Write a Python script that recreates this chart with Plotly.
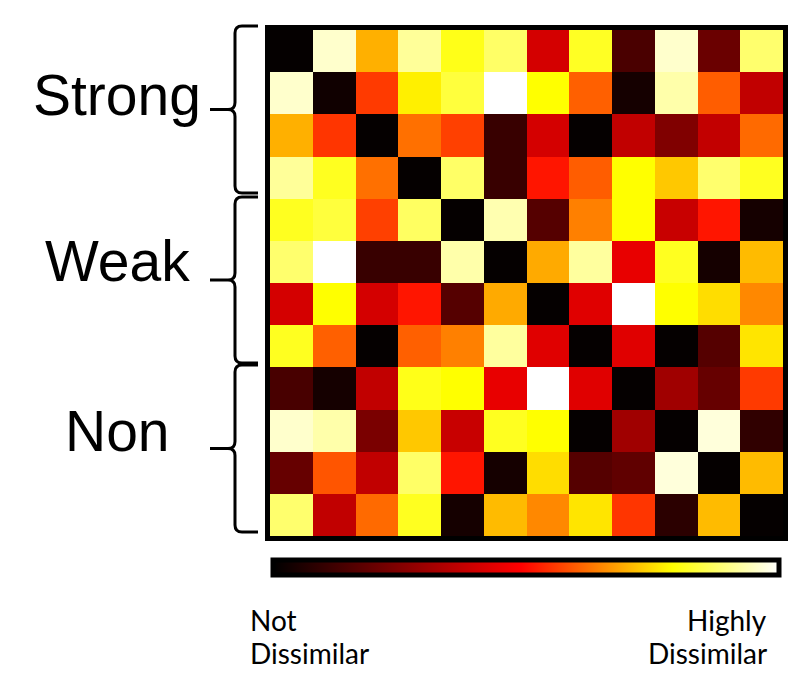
import plotly.graph_objects as go

W, H = 801, 677

# Dissimilarity matrix, grouped by bond strength (4 samples per group)
groups = ["Strong", "Weak", "Non"]

strong_rows = [
    [0.01, 0.958, 0.697, 0.916, 0.81, 0.874, 0.407, 0.82, 0.142, 0.958, 0.204, 0.88],
    [0.958, 0.03, 0.558, 0.772, 0.84, 1.0, 0.79, 0.603, 0.04, 0.93, 0.60, 0.37],
    [0.697, 0.552, 0.01, 0.622, 0.565, 0.108, 0.407, 0.01, 0.37, 0.246, 0.373, 0.615],
    [0.916, 0.816, 0.622, 0.01, 0.874, 0.108, 0.515, 0.60, 0.79, 0.725, 0.88, 0.816],
]
weak_rows = [
    [0.816, 0.84, 0.565, 0.87, 0.01, 0.935, 0.163, 0.64, 0.79, 0.384, 0.515, 0.04],
    [0.88, 1.0, 0.108, 0.108, 0.93, 0.01, 0.69, 0.92, 0.446, 0.816, 0.04, 0.71],
    [0.407, 0.79, 0.407, 0.515, 0.163, 0.69, 0.01, 0.43, 1.0, 0.79, 0.75, 0.65],
    [0.816, 0.603, 0.01, 0.603, 0.64, 0.92, 0.43, 0.01, 0.43, 0.01, 0.163, 0.76],
]
non_rows = [
    [0.138, 0.04, 0.37, 0.81, 0.79, 0.446, 1.0, 0.43, 0.01, 0.307, 0.196, 0.558],
    [0.958, 0.93, 0.235, 0.725, 0.384, 0.816, 0.79, 0.01, 0.307, 0.01, 0.97, 0.092],
    [0.196, 0.59, 0.37, 0.874, 0.515, 0.04, 0.75, 0.163, 0.185, 0.97, 0.01, 0.71],
    [0.88, 0.37, 0.615, 0.816, 0.04, 0.71, 0.65, 0.76, 0.552, 0.082, 0.71, 0.01],
]

low_label = ["Not", "Dissimilar"]
high_label = ["Highly", "Dissimilar"]

z = strong_rows + weak_rows + non_rows
n = len(z)

heat_scale = [
    [0.0, "#000000"],
    [0.49, "#ff0000"],
    [0.79, "#ffff00"],
    [1.0, "#ffffff"],
]


def px(x):
    return x / W


def py(y):
    return 1 - y / H


# plot area in pixels
X0, X1 = 270, 783
Y0, Y1 = 30, 536

fig = go.Figure(
    go.Heatmap(
        z=z,
        x=list(range(n)),
        y=list(range(n)),
        colorscale=heat_scale,
        zmin=0,
        zmax=1,
        colorbar=dict(
            orientation="h",
            lenmode="pixels",
            len=506,
            thickness=15,
            thicknessmode="pixels",
            x=px(526),
            xanchor="center",
            y=py(570),
            yanchor="middle",
            outlinewidth=5,
            outlinecolor="black",
            showticklabels=False,
            ticks="",
            xpad=0,
            ypad=0,
        ),
        hoverinfo="skip",
    )
)

axis_common = dict(
    showticklabels=False,
    ticks="",
    showgrid=False,
    zeroline=False,
    showline=True,
    linecolor="black",
    linewidth=5,
    mirror=True,
)
fig.update_xaxes(domain=[px(X0), px(X1)], range=[-0.5, n - 0.5], **axis_common)
fig.update_yaxes(domain=[py(Y1), py(Y0)], range=[n - 0.5, -0.5], **axis_common)


def brace(top, bot, xv=235, xr=258, xt=210, r=7):
    tip = (top + bot) / 2
    pts = [
        ("M", [(xr, top)]),
        ("L", [(xv + r, top)]),
        ("Q", [(xv, top), (xv, top + r)]),
        ("L", [(xv, tip - r)]),
        ("Q", [(xv, tip), (xv - r, tip)]),
        ("L", [(xt, tip)]),
        ("M", [(xv - r, tip)]),
        ("Q", [(xv, tip), (xv, tip + r)]),
        ("L", [(xv, bot - r)]),
        ("Q", [(xv, bot), (xv + r, bot)]),
        ("L", [(xr, bot)]),
    ]
    parts = []
    for cmd, coords in pts:
        parts.append(cmd + " " + " ".join(f"{px(a):.5f},{py(b):.5f}" for a, b in coords))
    return " ".join(parts)


brace_spans = [(26, 193), (197, 363), (365, 532)]
label_centers = [95, 261, 431]
for (t, b), name, yc in zip(brace_spans, groups, label_centers):
    fig.add_shape(
        type="path",
        path=brace(t, b),
        xref="paper",
        yref="paper",
        line=dict(color="black", width=3),
    )
    fig.add_annotation(
        text=name,
        x=px(117),
        y=py(yc),
        xref="paper",
        yref="paper",
        xanchor="center",
        yanchor="middle",
        showarrow=False,
        font=dict(family="Liberation Sans, Arial, sans-serif", size=57, color="black"),
    )

# end-point captions under the colour bar, one line each
line_centers = [620, 653]
for text, yc in zip(low_label, line_centers):
    fig.add_annotation(
        text=text,
        x=px(248),
        y=py(yc),
        xref="paper",
        yref="paper",
        xanchor="left",
        yanchor="middle",
        showarrow=False,
        font=dict(family="Lato, sans-serif", size=28, color="black"),
    )
for text, yc in zip(high_label, line_centers):
    fig.add_annotation(
        text=text,
        x=px(769),
        y=py(yc),
        xref="paper",
        yref="paper",
        xanchor="right",
        yanchor="middle",
        showarrow=False,
        font=dict(family="Lato, sans-serif", size=28, color="black"),
    )

fig.update_layout(
    width=W,
    height=H,
    margin=dict(l=0, r=0, t=0, b=0),
    paper_bgcolor="white",
    plot_bgcolor="white",
    showlegend=False,
)

fig.write_html("out.html")
